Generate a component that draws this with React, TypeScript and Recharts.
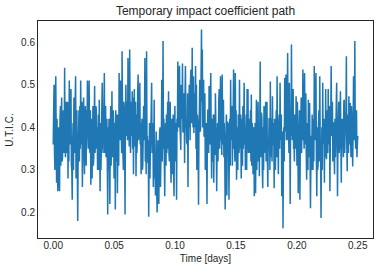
import React from 'react';
import { LineChart, Line, XAxis, YAxis } from 'recharts';

const uticValues: number[] = [
  // 0.000 - 0.028
  0.36,0.44,0.50,0.34,0.30,0.46,0.52,0.38,0.27,
  0.42,0.31,0.25,0.39,0.40,0.29,0.25,0.42,0.45,
  0.31,0.43,0.47,0.32,0.33,0.40,0.44,0.34,0.36,
  0.54,0.36,0.33,0.44,0.46,0.34,0.38,0.46,0.28,
  0.42,0.32,0.51,0.39,0.36,0.47,0.49,0.31,0.30,
  0.23,0.36,0.41,0.30,0.47,0.38,0.34,0.47,0.52,
  0.28,0.40,0.44,0.31,0.18,0.34,0.38,0.44,0.32,
  0.45,0.35,0.51,0.40,0.36,0.46,0.26,0.36,0.43,
  0.47,0.34,0.29,0.42,0.45,0.35,0.31,0.44,0.40,
  0.51,0.38,0.35,0.43,
  // 0.028 - 0.061
  0.51,0.35,0.34,0.44,0.265,0.36,0.42,0.28,0.36,
  0.45,0.31,0.33,0.41,0.497,0.34,0.37,0.45,0.44,
  0.35,0.40,0.30,0.375,0.43,0.30,0.465,0.35,0.25,
  0.41,0.30,0.36,0.44,0.505,0.36,0.34,0.43,0.44,
  0.528,0.34,0.38,0.45,0.33,0.39,0.42,0.32,0.195,
  0.40,0.30,0.42,0.34,0.22,0.36,0.45,0.31,0.36,
  0.485,0.35,0.33,0.44,0.41,0.28,0.36,0.41,0.207,
  0.44,0.32,0.38,0.43,0.245,0.375,0.43,0.31,0.528,
  0.37,0.485,0.51,0.37,0.40,0.34,0.579,0.45,0.34,
  0.30,0.46,0.44,0.38,0.195,0.43,0.50,0.39,0.38,
  0.46,0.37,0.563,0.46,
  // 0.061 - 0.094
  0.40,0.355,0.583,0.41,0.34,0.46,0.45,0.38,0.485,
  0.35,0.47,0.29,0.43,0.49,0.355,0.38,0.46,0.285,
  0.43,0.34,0.37,0.485,0.524,0.37,0.40,0.38,0.505,
  0.36,0.41,0.29,0.355,0.42,0.30,0.31,0.38,0.45,
  0.37,0.41,0.563,0.32,0.40,0.29,0.579,0.355,0.38,
  0.316,0.37,0.19,0.32,0.41,0.28,0.35,0.39,0.44,
  0.505,0.34,0.36,0.41,0.26,0.33,0.465,0.28,0.34,
  0.24,0.32,0.39,0.25,0.20,0.29,0.37,0.24,0.22,
  0.35,0.39,0.40,0.26,0.33,0.38,0.512,0.32,0.40,
  0.603,0.35,0.42,0.32,0.238,0.375,0.41,0.31,0.43,
  0.34,0.40,0.46,0.35,0.485,0.34,
  // 0.094 - 0.127
  0.32,0.40,0.46,0.32,0.27,0.36,0.42,0.29,0.35,
  0.43,0.30,0.238,0.38,0.45,0.32,0.38,0.41,0.23,
  0.42,0.39,0.555,0.43,0.40,0.51,0.545,0.40,0.38,
  0.347,0.50,0.48,0.42,0.55,0.39,0.39,0.48,0.45,
  0.316,0.47,0.544,0.40,0.41,0.365,0.36,0.48,0.26,
  0.44,0.40,0.50,0.46,0.37,0.51,0.536,0.42,0.41,
  0.587,0.43,0.40,0.52,0.387,0.48,0.47,0.40,0.544,
  0.35,0.50,0.30,0.43,0.41,0.365,0.218,0.40,0.44,
  0.512,0.39,0.40,0.52,0.630,0.46,0.583,0.40,0.42,
  0.512,0.38,0.38,0.48,0.30,0.40,0.41,0.35,0.22,
  0.39,0.44,0.44,0.34,
  // 0.127 - 0.160
  0.497,0.39,0.36,0.465,0.528,0.37,0.28,0.41,0.42,
  0.32,0.43,0.27,0.37,0.43,0.335,0.48,0.40,0.36,
  0.25,0.36,0.41,0.32,0.38,0.465,0.49,0.35,0.39,
  0.52,0.37,0.42,0.335,0.524,0.40,0.36,0.465,0.33,
  0.41,0.35,0.207,0.32,0.38,0.43,0.24,0.36,0.414,
  0.35,0.41,0.23,0.34,0.42,0.31,0.512,0.375,0.37,
  0.45,0.31,0.36,0.43,0.536,0.35,0.41,0.32,0.528,
  0.38,0.44,0.277,0.34,0.40,0.30,0.43,0.36,0.34,
  0.512,0.35,0.39,0.43,0.28,0.34,0.42,0.31,0.45,
  0.35,0.41,0.505,0.36,0.40,0.30,0.37,0.43,0.30,
  0.49,0.35,
  // 0.160 - 0.192
  0.49,0.34,0.36,0.42,0.34,0.38,0.44,0.32,0.477,
  0.31,0.41,0.40,0.29,0.35,0.40,0.238,0.34,0.41,
  0.245,0.36,0.465,0.30,0.37,0.41,0.46,0.32,0.39,
  0.285,0.40,0.555,0.33,0.38,0.435,0.42,0.30,0.257,
  0.40,0.30,0.45,0.34,0.36,0.42,0.46,0.32,0.38,
  0.46,0.33,0.26,0.37,0.35,0.42,0.42,0.30,0.508,
  0.33,0.42,0.41,0.32,0.473,0.36,0.36,0.41,0.257,
  0.42,0.32,0.30,0.38,0.44,0.33,0.52,0.36,0.38,
  0.29,0.41,0.43,0.35,0.505,0.40,0.37,0.43,0.238,
  0.32,0.39,0.163,0.35,0.40,0.32,0.516,0.43,0.39,
  0.524,0.37,
  // 0.192 - 0.225
  0.38,0.47,0.575,0.37,0.41,0.34,0.505,0.405,0.22,
  0.43,0.38,0.595,0.42,0.37,0.46,0.49,0.35,0.36,
  0.32,0.43,0.42,0.35,0.473,0.39,0.31,0.46,0.40,
  0.245,0.39,0.37,0.44,0.23,0.37,0.40,0.47,0.34,
  0.43,0.37,0.536,0.42,0.39,0.35,0.528,0.43,0.36,
  0.48,0.34,0.277,0.38,0.41,0.30,0.465,0.37,0.33,
  0.457,0.33,0.21,0.32,0.38,0.30,0.43,0.34,0.30,
  0.42,0.32,0.544,0.40,0.37,0.435,0.528,0.33,0.238,
  0.40,0.30,0.31,0.41,0.44,0.32,0.52,0.37,0.36,
  0.187,0.33,0.40,0.30,0.505,0.36,0.38,0.42,0.27,
  0.42,0.33,0.49,0.36,0.325,0.40,
  // 0.225 - 0.250
  0.44,0.34,0.49,0.38,0.36,0.45,0.25,0.37,0.42,
  0.544,0.395,0.38,0.46,0.32,0.41,0.41,0.34,0.29,
  0.42,0.33,0.37,0.45,0.505,0.395,0.238,0.36,0.40,
  0.46,0.34,0.36,0.43,0.485,0.37,0.27,0.42,0.40,
  0.42,0.36,0.33,0.46,0.465,0.34,0.38,0.42,0.44,
  0.567,0.36,0.297,0.43,0.41,0.34,0.473,0.38,0.36,
  0.457,0.37,0.33,0.45,0.42,0.36,0.308,0.41,0.52,
  0.41,0.37,0.603,0.395,0.35,0.43,0.44,0.33,0.36,
  0.38,
];

const startDay = 0;
const endDay = 0.25;

const xTicks = [0, 0.05, 0.1, 0.15, 0.2, 0.25];
const yTicks = [0.2, 0.3, 0.4, 0.5, 0.6];
const xDomain: [number, number] = [-0.0125, 0.2625];
const yDomain: [number, number] = [0.14, 0.65];

const chartTitle = 'Temporary impact coefficient path';
const xLabel = 'Time [days]';
const yLabel = 'U.T.I.C.';

// uniform sampling grid
const step = (endDay - startDay) / (uticValues.length - 1);
const data = uticValues.map((v, i) => ({ t: startDay + i * step, v }));

// layout
const CHART_W = 379;
const CHART_H = 271;
const M_TOP = 21;
const M_RIGHT = 6;
const Y_AXIS_W = 38;
const X_AXIS_H = 33;
const plotLeft = Y_AXIS_W;
const plotTop = M_TOP;
const plotW = CHART_W - Y_AXIS_W - M_RIGHT;
const plotH = CHART_H - M_TOP - X_AXIS_H;
const FRAME_W = 1.25;

const FONT = '"Liberation Sans", Arial, Helvetica, sans-serif';
const TXT = '#262626';
const tickStyle = { fill: TXT, fontSize: 10, fontFamily: FONT };

export default function App() {
  return (
    <div style={{ position: 'absolute', left: 0, top: 0, width: CHART_W, height: CHART_H, background: '#fff', fontFamily: FONT }}>
      <LineChart width={CHART_W} height={CHART_H} data={data} margin={{ top: M_TOP, right: M_RIGHT, bottom: 0, left: 0 }}>
        <XAxis
          dataKey="t"
          type="number"
          domain={xDomain}
          allowDataOverflow
          ticks={xTicks}
          tickFormatter={(v: number) => v.toFixed(2)}
          tick={tickStyle}
          tickLine={false}
          tickSize={0}
          tickMargin={4}
          axisLine={false}
          height={X_AXIS_H}
          interval={0}
        />
        <YAxis
          type="number"
          domain={yDomain}
          allowDataOverflow
          ticks={yTicks}
          tickFormatter={(v: number) => v.toFixed(1)}
          tick={tickStyle}
          tickLine={false}
          tickSize={0}
          tickMargin={3}
          axisLine={false}
          width={Y_AXIS_W}
          interval={0}
        />
        <Line
          type="linear"
          dataKey="v"
          stroke="#1f77b4"
          strokeWidth={1.5}
          dot={false}
          activeDot={false}
          isAnimationActive={false}
        />
      </LineChart>
      {/* axes frame (all four spines) */}
      <div
        style={{
          position: 'absolute',
          left: plotLeft - FRAME_W / 2,
          top: plotTop - FRAME_W / 2,
          width: plotW + FRAME_W,
          height: plotH + FRAME_W,
          border: `${FRAME_W}px solid ${TXT}`,
          boxSizing: 'border-box',
          pointerEvents: 'none',
        }}
      />
      <div style={{ position: 'absolute', left: plotLeft, top: 4, width: plotW, textAlign: 'center', fontSize: 12, lineHeight: '14px', color: TXT, whiteSpace: 'nowrap' }}>
        {chartTitle}
      </div>
      <div style={{ position: 'absolute', left: plotLeft, top: 252.5, width: plotW, textAlign: 'center', fontSize: 10, lineHeight: '12px', color: TXT, whiteSpace: 'nowrap' }}>
        {xLabel}
      </div>
      <div style={{ position: 'absolute', left: 10, top: plotTop + plotH / 2, transform: 'translate(-50%, -50%) rotate(-90deg)', fontSize: 10, lineHeight: '12px', color: TXT, whiteSpace: 'nowrap' }}>
        {yLabel}
      </div>
    </div>
  );
}
